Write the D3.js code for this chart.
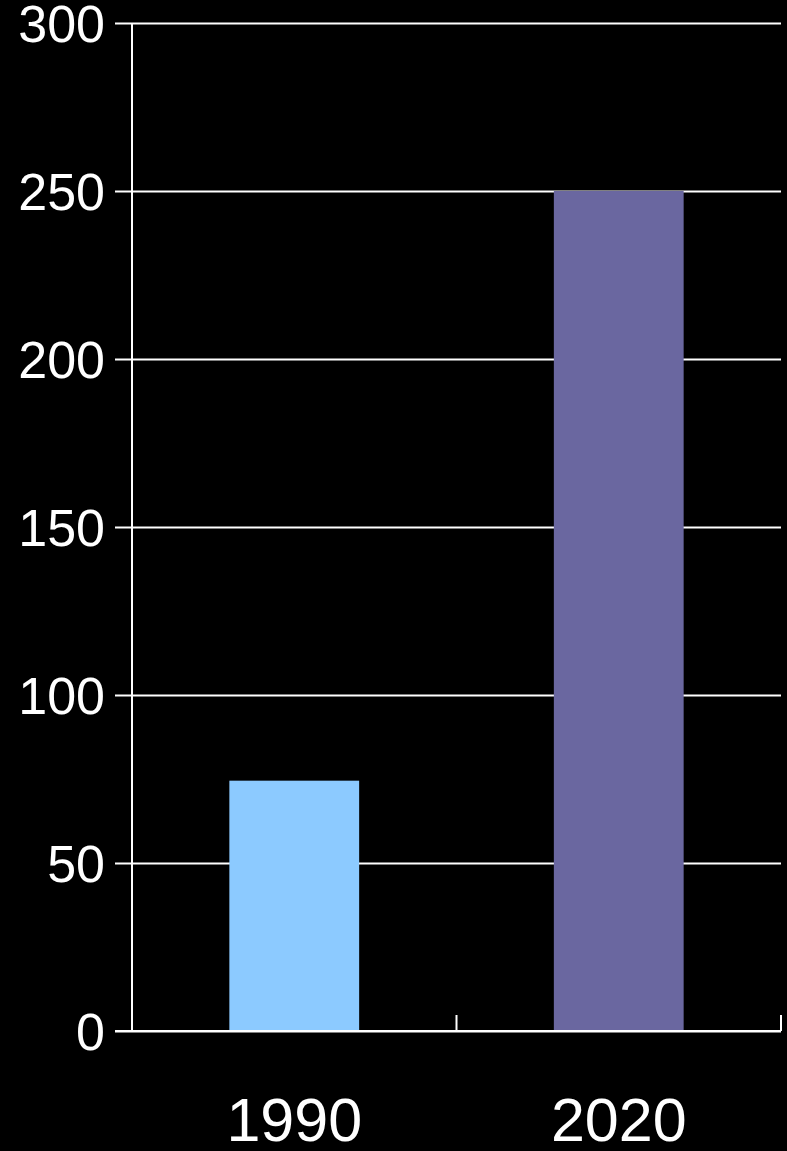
<!DOCTYPE html>
<html>
<head>
<meta charset="utf-8">
<script src="https://cdn.jsdelivr.net/npm/d3@7"></script>
<style>
  html, body { margin: 0; padding: 0; background: #000; }
  svg { display: block; }
  text { font-family: "Liberation Sans", Arial, sans-serif; fill: #fff; }
</style>
</head>
<body>
<svg id="chart" width="787" height="1151"></svg>
<script>
// Data
const years = ["1990", "2020"];
const values = [74.5, 250];
const barColors = ["#8ccaff", "#6a67a0"];
const yTicks = [0, 50, 100, 150, 200, 250, 300];

const width = 787, height = 1151;
const plot = { left: 132, right: 781, top: 23, bottom: 1031 };

const svg = d3.select("#chart");
svg.append("rect").attr("width", width).attr("height", height).attr("fill", "#000");

const x = d3.scaleBand()
  .domain(years)
  .range([plot.left, plot.right])
  .paddingInner(0.6)
  .paddingOuter(0.3);

const y = d3.scaleLinear()
  .domain([0, 300])
  .range([plot.bottom, plot.top]);

// Horizontal gridlines with outward tick marks
const yAxis = d3.axisLeft(y)
  .tickValues(yTicks)
  .tickSize(-(plot.right - plot.left))
  .tickPadding(0)
  .tickFormat("");
const gy = svg.append("g")
  .attr("transform", `translate(${plot.left},0)`)
  .call(yAxis);
gy.select(".domain").remove();
gy.selectAll(".tick line")
  .attr("x1", -17)
  .attr("stroke", "#fff")
  .attr("stroke-width", 2);

// Y tick labels
svg.append("g").selectAll("text")
  .data(yTicks)
  .join("text")
  .attr("x", 105)
  .attr("y", d => y(d))
  .attr("dy", "0.36em")
  .attr("text-anchor", "end")
  .attr("font-size", 52)
  .text(d => d);

// Bars
svg.append("g").selectAll("rect")
  .data(years)
  .join("rect")
  .attr("x", d => x(d))
  .attr("y", (d, i) => y(values[i]))
  .attr("width", x.bandwidth())
  .attr("height", (d, i) => y(0) - y(values[i]))
  .attr("fill", (d, i) => barColors[i]);

// Vertical axis line
svg.append("line")
  .attr("x1", plot.left).attr("x2", plot.left)
  .attr("y1", y(300)).attr("y2", y(0))
  .attr("stroke", "#fff").attr("stroke-width", 2);

// Baseline with inward category boundary ticks
svg.append("line")
  .attr("x1", plot.left - 17).attr("x2", plot.right)
  .attr("y1", y(0)).attr("y2", y(0))
  .attr("stroke", "#fff").attr("stroke-width", 2);
const step = x.step();
const boundaries = d3.range(years.length + 1).map(i => plot.left + i * step);
svg.append("g").selectAll("line")
  .data(boundaries.slice(1))
  .join("line")
  .attr("x1", d => d).attr("x2", d => d)
  .attr("y1", y(0)).attr("y2", y(0) - 16)
  .attr("stroke", "#fff").attr("stroke-width", 2);

// Category labels
svg.append("g").selectAll("text")
  .data(years)
  .join("text")
  .attr("x", d => x(d) + x.bandwidth() / 2)
  .attr("y", 1141)
  .attr("text-anchor", "middle")
  .attr("font-size", 61)
  .text(d => d);
</script>
</body>
</html>
